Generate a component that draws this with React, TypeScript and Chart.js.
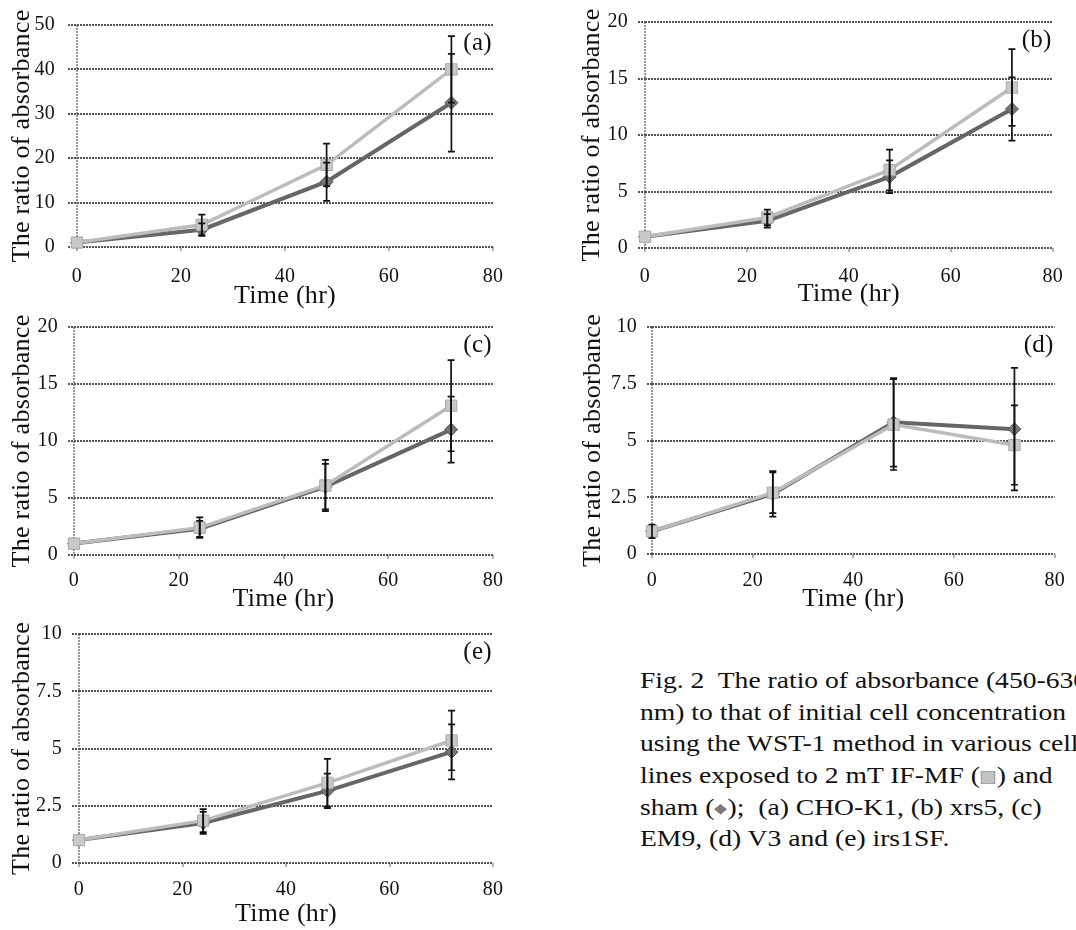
import React, { useEffect, useRef } from 'react';
import { Chart, registerables } from 'chart.js';
Chart.register(...registerables);

// ---------- data ----------
const times = [0, 24, 48, 72];
const xTicks = [0, 20, 40, 60, 80];

const aIfmf = [1, 5.0, 18.5, 40.0];
const aIfmfErr = [0, 2.3, 4.8, 7.5];
const aSham = [1, 3.9, 14.7, 32.5];
const aShamErr = [0, 1.4, 4.3, 11.0];
const yTicksA = [0, 10, 20, 30, 40, 50];

const bIfmf = [1, 2.7, 6.9, 14.2];
const bIfmfErr = [0, 0.7, 1.8, 3.4];
const bSham = [1, 2.4, 6.3, 12.3];
const bShamErr = [0, 0.6, 1.45, 2.8];
const yTicksB = [0, 5, 10, 15, 20];

const cIfmf = [1, 2.4, 6.1, 13.1];
const cIfmfErr = [0, 0.9, 2.25, 4.0];
const cSham = [1, 2.3, 6.0, 11.0];
const cShamErr = [0, 0.7, 2.0, 2.9];
const yTicksC = [0, 5, 10, 15, 20];

const dIfmf = [1, 2.7, 5.7, 4.8];
const dIfmfErr = [0, 0.9, 2.0, 1.75];
const dSham = [1, 2.65, 5.8, 5.5];
const dShamErr = [0.3, 1.0, 1.95, 2.7];
const yTicksD = [0, 2.5, 5, 7.5, 10];

const eIfmf = [1, 1.85, 3.5, 5.35];
const eIfmfErr = [0, 0.5, 1.05, 1.3];
const eSham = [1, 1.75, 3.15, 4.85];
const eShamErr = [0, 0.48, 0.75, 1.2];
const yTicksE = [0, 2.5, 5, 7.5, 10];

const xTitle = 'Time (hr)';
const yTitle = 'The ratio of absorbance';

// ---------- layout / style ----------
const FONT = '"Liberation Serif", "Times New Roman", serif';
const TITLE_SIZE = 26;
const TICK_SIZE = 20;
const LABEL_SIZE = 25;
const TEXT = '#111';
const GRID = '#555';
const AXIS = '#999';

type Geom = {
  cx: number; cy: number; cw: number; ch: number;
  l: number; t: number; r: number; b: number;
  yTitleX: number; yLabelRight: number; gridStart: number;
  xLabelY: number; xTitleY: number;
};

type PanelDef = {
  label: string;
  ifmf: number[]; ifmfErr: number[];
  sham: number[]; shamErr: number[];
  yTicks: number[];
  g: Geom;
};

const panels: PanelDef[] = [
  { label: '(a)', ifmf: aIfmf, ifmfErr: aIfmfErr, sham: aSham, shamErr: aShamErr, yTicks: yTicksA,
    g: { cx: 0, cy: 0, cw: 530, ch: 314, l: 77, t: 19, r: 493, b: 247, yTitleX: 22, yLabelRight: 55, gridStart: 68, xLabelY: 277, xTitleY: 296 } },
  { label: '(b)', ifmf: bIfmf, ifmfErr: bIfmfErr, sham: bSham, shamErr: bShamErr, yTicks: yTicksB,
    g: { cx: 560, cy: 0, cw: 516, ch: 314, l: 645, t: 18, r: 1061, b: 248, yTitleX: 592, yLabelRight: 628, gridStart: 638, xLabelY: 277, xTitleY: 294 } },
  { label: '(c)', ifmf: cIfmf, ifmfErr: cIfmfErr, sham: cSham, shamErr: cShamErr, yTicks: yTicksC,
    g: { cx: 0, cy: 305, cw: 530, ch: 310, l: 74, t: 325, r: 493, b: 555, yTitleX: 22, yLabelRight: 58, gridStart: 68, xLabelY: 581, xTitleY: 599 } },
  { label: '(d)', ifmf: dIfmf, ifmfErr: dIfmfErr, sham: dSham, shamErr: dShamErr, yTicks: yTicksD,
    g: { cx: 560, cy: 305, cw: 516, ch: 310, l: 652, t: 326, r: 1062, b: 554, yTitleX: 593, yLabelRight: 637, gridStart: 647, xLabelY: 581, xTitleY: 599 } },
  { label: '(e)', ifmf: eIfmf, ifmfErr: eIfmfErr, sham: eSham, shamErr: eShamErr, yTicks: yTicksE,
    g: { cx: 0, cy: 612, cw: 530, ch: 318, l: 79, t: 634, r: 493, b: 863, yTitleX: 22, yLabelRight: 62, gridStart: 72, xLabelY: 890, xTitleY: 914 } },
];

// ---------- plugins ----------
const SPACING = '0.3px';
const spacingPlugin = {
  id: 'letterSpacing',
  beforeUpdate(chart: any) { try { chart.ctx.letterSpacing = SPACING; } catch (e) {} },
  beforeDraw(chart: any) { try { chart.ctx.letterSpacing = SPACING; } catch (e) {} },
};

const errorBarPlugin = {
  id: 'errorBars',
  afterDatasetsDraw(chart: any) {
    const { ctx } = chart;
    const xs = chart.scales.x;
    const ys = chart.scales.y;
    ctx.save();
    ctx.strokeStyle = '#111';
    ctx.lineWidth = 1.7;
    ctx.setLineDash([]);
    chart.data.datasets.forEach((ds: any) => {
      ds.data.forEach((pt: any, i: number) => {
        const e = ds.errorBars ? ds.errorBars[i] : 0;
        if (!e) return;
        const x = xs.getPixelForValue(pt.x);
        const y1 = ys.getPixelForValue(pt.y + e);
        const y2 = ys.getPixelForValue(pt.y - e);
        const w = 3.5;
        ctx.beginPath();
        ctx.moveTo(x, y1); ctx.lineTo(x, y2);
        ctx.moveTo(x - w, y1); ctx.lineTo(x + w, y1);
        ctx.moveTo(x - w, y2); ctx.lineTo(x + w, y2);
        ctx.stroke();
      });
    });
    ctx.restore();
  },
};

const panelLabelPlugin = {
  id: 'panelLabel',
  afterDraw(chart: any, _args: any, opts: any) {
    const { ctx, chartArea } = chart;
    ctx.save();
    ctx.font = `${LABEL_SIZE}px ${FONT}`;
    ctx.fillStyle = TEXT;
    ctx.textAlign = 'right';
    ctx.textBaseline = 'middle';
    ctx.fillText(opts.text, chartArea.right - 1, chartArea.top + 18);
    ctx.restore();
  },
};

function Panel({ p }: { p: PanelDef }) {
  const ref = useRef<HTMLCanvasElement | null>(null);
  const g = p.g;
  useEffect(() => {
    if (!ref.current) return;
    const yTickLen = g.l - g.gridStart;
    const xTickLen = 4;
    const tickLH = TICK_SIZE * 1.2;
    const titleLH = TITLE_SIZE * 1.2;
    const yMax = p.yTicks[p.yTicks.length - 1];
    const chart = new Chart(ref.current, {
      type: 'line',
      data: {
        datasets: [
          {
            label: 'IF-MF',
            data: times.map((t, i) => ({ x: t, y: p.ifmf[i] })),
            errorBars: p.ifmfErr,
            borderColor: '#bcbcbc',
            borderWidth: 3.5,
            pointStyle: 'rect',
            pointRadius: 8,
            pointBackgroundColor: '#c8c8c8',
            pointBorderColor: '#a9a9a9',
            pointBorderWidth: 1,
            tension: 0,
            fill: false,
            clip: false,
          } as any,
          {
            label: 'sham',
            data: times.map((t, i) => ({ x: t, y: p.sham[i] })),
            errorBars: p.shamErr,
            borderColor: '#666666',
            borderWidth: 4,
            pointStyle: 'rectRot',
            pointRadius: 6.5,
            pointBackgroundColor: '#777',
            pointBorderColor: '#555',
            pointBorderWidth: 1,
            tension: 0,
            fill: false,
            clip: false,
          } as any,
        ],
      },
      options: {
        responsive: false,
        animation: false,
        devicePixelRatio: 1,
        events: [],
        layout: { padding: { left: 0, top: g.t - g.cy, right: g.cx + g.cw - g.r, bottom: 0 } },
        plugins: {
          legend: { display: false },
          tooltip: { enabled: false },
          title: { display: false },
          panelLabel: { text: p.label },
        } as any,
        scales: {
          x: {
            type: 'linear',
            min: 0,
            max: 80,
            afterBuildTicks: (s: any) => { s.ticks = xTicks.map((v) => ({ value: v })); },
            afterFit: (s: any) => { s.height = g.cy + g.ch - g.b; },
            grid: {
              display: true,
              drawOnChartArea: true,
              drawTicks: true,
              tickLength: xTickLen,
              color: (c: any) => (c.tick && c.tick.value === 0 ? AXIS : 'rgba(0,0,0,0)'),
              lineWidth: 2,
              tickColor: AXIS,
              tickWidth: 1.5,
            },
            border: { display: false, dash: [2, 1] },
            ticks: {
              autoSkip: false,
              maxRotation: 0,
              color: TEXT,
              font: { family: FONT, size: TICK_SIZE },
              padding: g.xLabelY - g.b - xTickLen - tickLH / 2,
              callback: (v: any) => String(v),
            },
            title: {
              display: true,
              text: xTitle,
              color: TEXT,
              font: { family: FONT, size: TITLE_SIZE },
              padding: { top: 0, bottom: Math.max(0, g.cy + g.ch - g.xTitleY - titleLH / 2) },
            },
          },
          y: {
            type: 'linear',
            min: 0,
            max: yMax,
            afterBuildTicks: (s: any) => { s.ticks = p.yTicks.map((v) => ({ value: v })); },
            afterFit: (s: any) => { s.width = g.l - g.cx; },
            grid: {
              display: true,
              drawTicks: true,
              tickLength: yTickLen,
              color: GRID,
              lineWidth: 2,
              tickColor: GRID,
              tickWidth: 2,
              tickBorderDash: [2, 1],
            },
            border: { display: false, dash: [2, 1] },
            ticks: {
              color: TEXT,
              font: { family: FONT, size: TICK_SIZE },
              padding: g.l - yTickLen - g.yLabelRight,
              callback: (v: any) => String(v),
            },
            title: {
              display: true,
              text: yTitle,
              color: TEXT,
              font: { family: FONT, size: TITLE_SIZE },
              padding: { top: g.yTitleX - g.cx - titleLH / 2, bottom: 0 },
            },
          },
        },
      } as any,
      plugins: [spacingPlugin, errorBarPlugin, panelLabelPlugin] as any,
    });
    return () => chart.destroy();
  }, []);
  return (
    <canvas
      ref={ref}
      width={g.cw}
      height={g.ch}
      style={{ position: 'absolute', left: g.cx, top: g.cy, width: g.cw, height: g.ch }}
    />
  );
}

const captionLines: React.ReactNode[] = [
  'Fig. 2  The ratio of absorbance (450-630',
  'nm) to that of initial cell concentration',
  'using the WST-1 method in various cell',
  <>
    lines exposed to 2 mT IF-MF (
    <span style={{ display: 'inline-block', width: 10, height: 11, background: '#c2c2c2', border: '1px solid #a5a5a5', verticalAlign: '-1px', margin: '0 1px' }} />
    ) and
  </>,
  <>
    sham (<span style={{ color: '#7a7a7a', fontSize: 14, verticalAlign: '2px' }}>◆</span>);  (a) CHO-K1, (b) xrs5, (c)
  </>,
  'EM9, (d) V3 and (e) irs1SF.',
];
const captionCenters = [681, 713, 744, 776, 808, 839];

export default function App() {
  return (
    <div style={{ position: 'absolute', left: 0, top: 0, width: 1076, height: 930, overflow: 'hidden', background: '#fff' }}>
      {panels.map((p) => (
        <Panel key={p.label} p={p} />
      ))}
      {captionLines.map((line, i) => (
        <div
          key={i}
          style={{
            position: 'absolute',
            left: 640,
            top: captionCenters[i] - 16,
            height: 32,
            lineHeight: '32px',
            fontFamily: FONT,
            fontSize: 23,
            color: TEXT,
            whiteSpace: 'pre',
            transform: 'scaleX(1.2)',
            transformOrigin: 'left center',
          }}
        >
          {line}
        </div>
      ))}
    </div>
  );
}
